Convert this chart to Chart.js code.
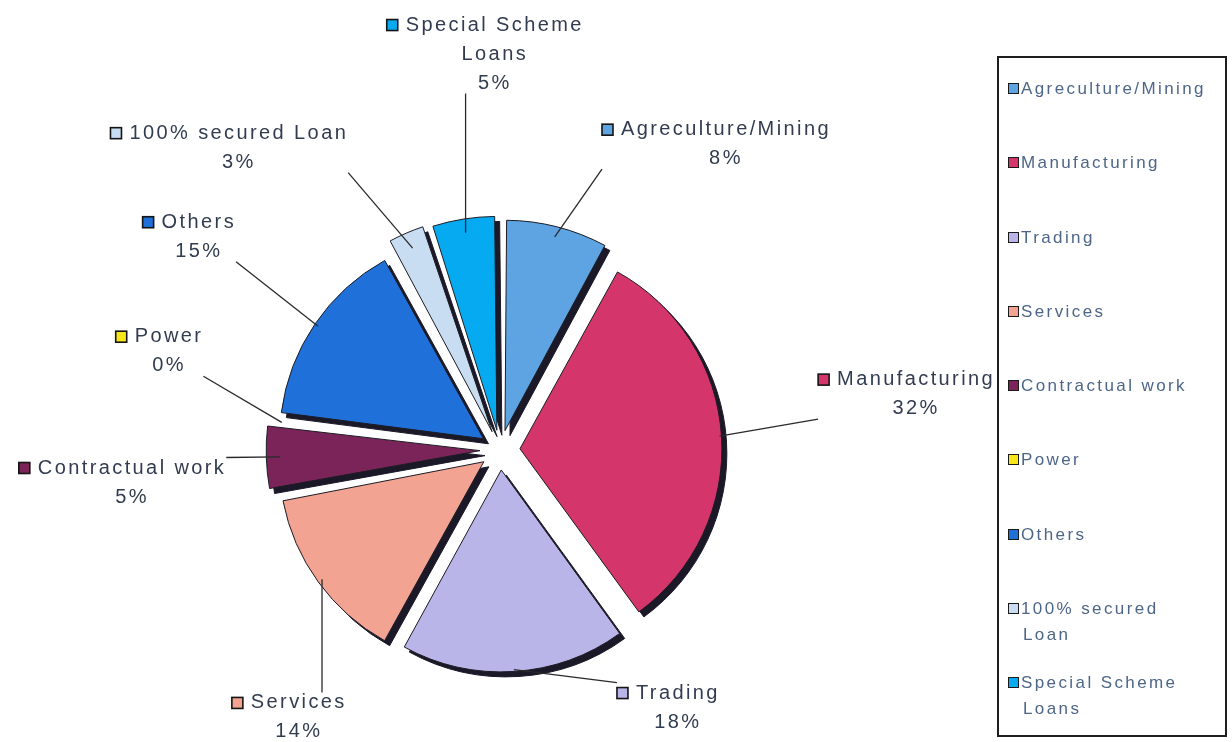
<!DOCTYPE html>
<html>
<head>
<meta charset="utf-8">
<script src="https://cdn.jsdelivr.net/npm/chart.js@4.4.1/dist/chart.umd.min.js"></script>
<style>
  html, body { margin: 0; padding: 0; background: #fff; }
  #wrap { position: relative; width: 1232px; height: 742px; }
  #pieCanvas { position: absolute; left: 0; top: 0; }
  #legendBox {
    position: absolute; left: 997px; top: 56px; width: 226px; height: 659px;
    border: 2px solid #1e1e1e; box-sizing: content-box;
    font-family: "Liberation Sans", Arial, sans-serif; font-size: 17px;
    letter-spacing: 2.4px; color: #4d6688; padding-top: 18px;
  }
  .legend-item { height: 74.3px; padding-left: 9px; line-height: 26px; }
  .legend-item .sw {
    display: inline-block; width: 9px; height: 9px; border: 1.5px solid #1a1a1a;
    margin-right: 2px; vertical-align: 0px;
  }
  .legend-item .l2 { padding-left: 15px; }
</style>
</head>
<body>
<div id="wrap">
  <canvas id="pieCanvas" width="1232" height="742"></canvas>
  <div id="legendBox"></div>
</div>
<script>
// --- DATA ---
const categories = ["Agreculture/Mining", "Manufacturing", "Trading", "Services",
  "Contractual work", "Power", "Others", "100% secured Loan", "Special Scheme Loans"];
const shares = [8, 32, 18, 14, 5, 0, 15, 3, 5];
const sliceColors = ["#5ea4e2", "#d4366c", "#bab5e8", "#f2a392", "#7b2459",
  "#f6e61a", "#1f70d8", "#c9ddf2", "#06aaf0"];

// how the names break onto lines in the pie labels and in the legend
const pieLabelText = ["Agreculture/Mining", "Manufacturing", "Trading", "Services",
  "Contractual work", "Power", "Others", "100% secured Loan", "Special Scheme\nLoans"];
const legendText = ["Agreculture/Mining", "Manufacturing", "Trading", "Services",
  "Contractual work", "Power", "Others", "100% secured\nLoan", "Special Scheme\nLoans"];

// label anchor: [angle clockwise from top in degrees, distance in pie radii]
const labelPolar = [[35.2, 1.96], [80.4, 2.11], [143.8, 1.506], [218.5, 1.616],
  [267.2, 1.842], [288.9, 1.749], [307.1, 1.888], [320.5, 2.053], [359.3, 2.125]];

// Chart.js moves an arc out by offset / 4 pixels
const SLICE_OFFSET = 80;
const SHADOW_COLOR = "#1b1828";

// --- DARK DROP SHADOW: draw every slice once in dark, shifted, before the real pass ---
const sliceShadow = {
  id: "sliceShadow",
  beforeDatasetDraw(chart, args) {
    const ctx = chart.ctx;
    ctx.save();
    ctx.translate(5, 5);
    args.meta.data.forEach((arc) => {
      const ghost = Object.create(arc);
      ghost.options = Object.assign({}, arc.options, {
        backgroundColor: SHADOW_COLOR,
        borderColor: SHADOW_COLOR,
      });
      ghost.draw(ctx);
    });
    ctx.restore();
  },
};

// --- OUTSIDE LABELS WITH LEADER LINES ---
const outsideLabels = {
  id: "outsideLabels",
  afterDraw(chart) {
    const ctx = chart.ctx;
    const area = chart.chartArea;
    const cx = (area.left + area.right) / 2;
    const cy = (area.top + area.bottom) / 2;
    const arcs = chart.getDatasetMeta(0).data;
    const fontSize = 20;
    const lineH = 29;
    const sq = 11, sqGap = 8;

    ctx.save();
    ctx.font = `${fontSize}px "Liberation Sans", Arial, sans-serif`;
    ctx.letterSpacing = "2.4px";
    ctx.textBaseline = "middle";

    arcs.forEach((arc, i) => {
      const R = arc.outerRadius;
      const [deg, dist] = labelPolar[i];
      const a = (deg - 90) * Math.PI / 180;
      const ax = cx + Math.cos(a) * R * dist;
      const ay = cy + Math.sin(a) * R * dist;

      const lines = pieLabelText[i].split("\n").concat([`${shares[i]}%`]);
      const widths = lines.map((t) => ctx.measureText(t).width);
      let left = ax - widths[0] / 2 - sq - sqGap;
      let right = ax + widths[0] / 2;
      widths.forEach((w) => {
        left = Math.min(left, ax - w / 2);
        right = Math.max(right, ax + w / 2);
      });
      const top = ay - lineH / 2;
      const bottom = top + lines.length * lineH;

      // leader line from the slice edge to the nearest point of the label box
      const mid = (arc.startAngle + arc.endAngle) / 2;
      const reach = R + SLICE_OFFSET / 4;
      const px = arc.x + Math.cos(mid) * reach;
      const py = arc.y + Math.sin(mid) * reach;
      const ex = Math.min(Math.max(px, left), right);
      const ey = Math.min(Math.max(py, top + 4), bottom - 4);
      ctx.strokeStyle = "#2a2a2a";
      ctx.lineWidth = 1.3;
      ctx.beginPath();
      ctx.moveTo(px, py);
      ctx.lineTo(ex, ey);
      ctx.stroke();

      // colour square
      const sx = ax - widths[0] / 2 - sqGap - sq;
      ctx.fillStyle = sliceColors[i];
      ctx.fillRect(sx, ay - sq / 2, sq, sq);
      ctx.strokeStyle = "#151515";
      ctx.lineWidth = 1.6;
      ctx.strokeRect(sx, ay - sq / 2, sq, sq);

      ctx.fillStyle = "#323c50";
      ctx.textAlign = "center";
      lines.forEach((t, k) => {
        ctx.fillText(t, ax, ay + k * lineH);
      });
    });
    ctx.restore();
  },
};

new Chart(document.getElementById("pieCanvas"), {
  type: "pie",
  data: {
    labels: categories,
    datasets: [{
      data: shares,
      backgroundColor: sliceColors,
      borderColor: "#1c1c24",
      borderWidth: 1,
      offset: SLICE_OFFSET,
    }],
  },
  options: {
    responsive: false,
    animation: false,
    radius: 200,
    layout: { padding: { left: 0, right: 232, top: 158, bottom: 0 } },
    plugins: {
      legend: { display: false },
      tooltip: { enabled: false },
    },
  },
  plugins: [sliceShadow, outsideLabels],
});

// --- LEGEND BOX ---
const legendBox = document.getElementById("legendBox");
legendText.forEach((txt, i) => {
  const item = document.createElement("div");
  item.className = "legend-item";
  const parts = txt.split("\n");
  item.innerHTML = `<span class="sw" style="background:${sliceColors[i]}"></span>${parts[0]}` +
    parts.slice(1).map((p) => `<div class="l2">${p}</div>`).join("");
  legendBox.appendChild(item);
});
</script>
</body>
</html>
